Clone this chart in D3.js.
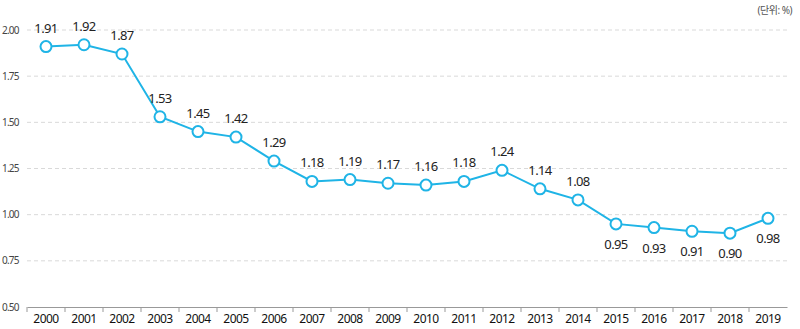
<!DOCTYPE html>
<html>
<head>
<meta charset="utf-8">
<script src="https://cdn.jsdelivr.net/npm/d3@7"></script>
<style>
  body { margin: 0; background: #fff; }
  svg { font-family: "Noto Sans", "Noto Sans CJK KR", sans-serif; }
</style>
</head>
<body>
<svg id="chart" width="800" height="329"></svg>
<script>
const years = ['2000', '2001', '2002', '2003', '2004', '2005', '2006', '2007', '2008', '2009',
  '2010', '2011', '2012', '2013', '2014', '2015', '2016', '2017', '2018', '2019'];
const rates = [1.91, 1.92, 1.87, 1.53, 1.45, 1.42, 1.29, 1.18, 1.19, 1.17,
  1.16, 1.18, 1.24, 1.14, 1.08, 0.95, 0.93, 0.91, 0.90, 0.98];
const yTicks = [0.5, 0.75, 1.0, 1.25, 1.5, 1.75, 2.0];
// labels drawn under the point from 2015 onward
const belowFrom = 15;

const width = 800;
const height = 329;
const margin = { top: 30, right: 13, bottom: 22, left: 27 };

const svg = d3.select('#chart');

const x = d3.scaleBand()
  .domain(years)
  .range([margin.left, width - margin.right])
  .padding(0);

const y = d3.scaleLinear()
  .domain([0.5, 2.0])
  .range([height - margin.bottom, margin.top]);

// dashed grid
svg.append('g')
  .selectAll('line')
  .data(yTicks.filter((d) => d > 0.5))
  .join('line')
    .attr('x1', margin.left)
    .attr('x2', width - margin.right)
    .attr('y1', (d) => y(d))
    .attr('y2', (d) => y(d))
    .attr('stroke', '#d9d9d9')
    .attr('stroke-dasharray', '4,3');

// y labels
svg.append('g')
  .selectAll('text')
  .data(yTicks)
  .join('text')
    .attr('x', 2)
    .attr('y', (d) => y(d))
    .attr('dy', '0.35em')
    .attr('font-size', 10)
    .attr('fill', '#444')
    .attr('letter-spacing', '-0.8')
    .text((d) => d3.format('.2f')(d));

// x axis
const xAxis = svg.append('g')
  .attr('transform', `translate(0,${y(0.5)})`)
  .call(d3.axisBottom(x).tickSize(0).tickPadding(7));
xAxis.select('.domain').attr('stroke', '#999');
xAxis.selectAll('text')
  .attr('font-size', 12)
  .attr('fill', '#111')
  .attr('font-family', '"Noto Sans", sans-serif')
  .attr('letter-spacing', '-0.5');
xAxis.append('g')
  .selectAll('line')
  .data(years)
  .join('line')
    .attr('x1', (d) => x(d))
    .attr('x2', (d) => x(d))
    .attr('y1', 0)
    .attr('y2', 5)
    .attr('stroke', '#999');

const cx = (d, i) => x(years[i]) + x.bandwidth() / 2;

const line = d3.line()
  .x((d, i) => cx(d, i))
  .y((d) => y(d));

svg.append('path')
  .datum(rates)
  .attr('d', line)
  .attr('fill', 'none')
  .attr('stroke', '#1fb4e6')
  .attr('stroke-width', 2);

svg.append('g')
  .selectAll('circle')
  .data(rates)
  .join('circle')
    .attr('cx', cx)
    .attr('cy', (d) => y(d))
    .attr('r', 5.5)
    .attr('fill', '#fff')
    .attr('stroke', '#1fb4e6')
    .attr('stroke-width', 2);

svg.append('g')
  .selectAll('text')
  .data(rates)
  .join('text')
    .attr('x', cx)
    .attr('y', (d, i) => (i >= belowFrom ? y(d) + 25 : y(d) - 14))
    .attr('text-anchor', 'middle')
    .attr('font-size', 13)
    .attr('fill', '#222')
    .attr('letter-spacing', '-0.6')
    .text((d) => d3.format('.2f')(d));

svg.append('text')
  .attr('x', width - 8)
  .attr('y', 14)
  .attr('text-anchor', 'end')
  .attr('font-size', 10)
  .attr('fill', '#555')
  .attr('letter-spacing', '-0.5')
  .text('(단위: %)');
</script>
</body>
</html>
